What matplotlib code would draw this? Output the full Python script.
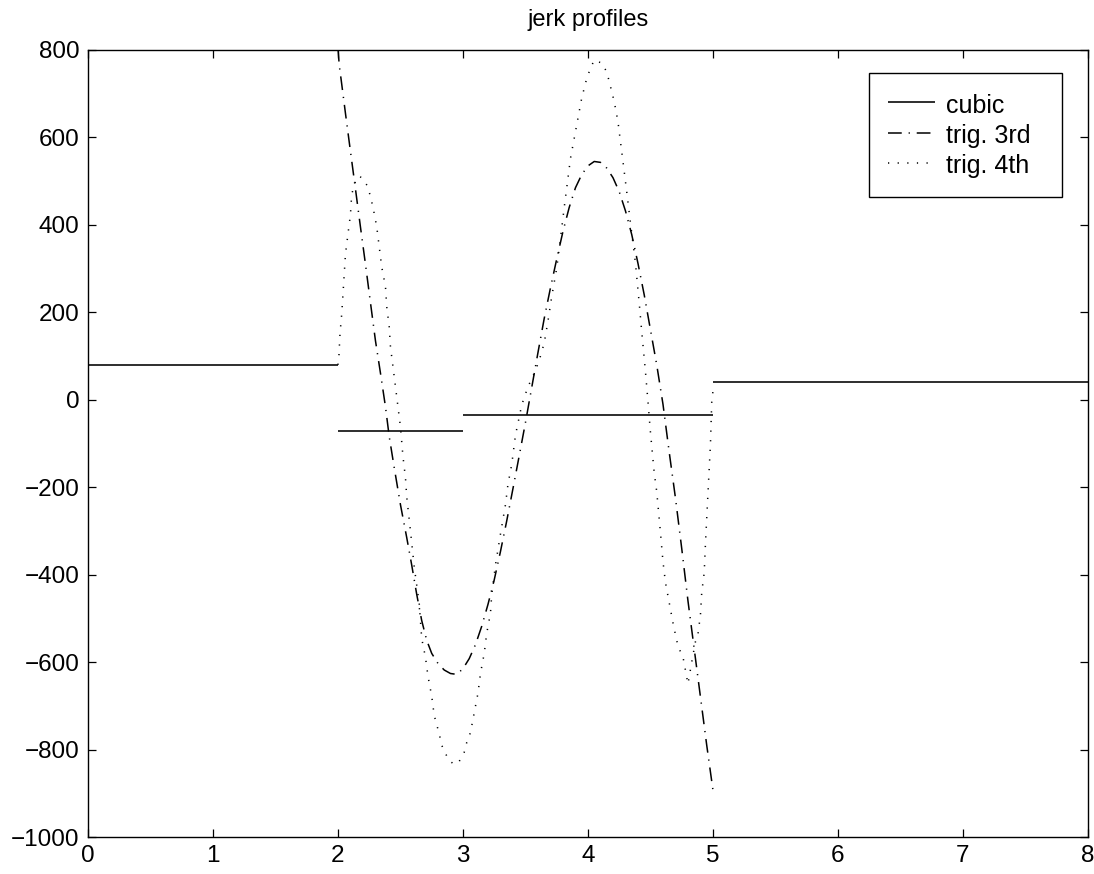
import numpy as np
import matplotlib
matplotlib.use("Agg")
import matplotlib.pyplot as plt

plt.rcParams['font.family'] = ['Liberation Sans', 'DejaVu Sans']

# piecewise-constant jerk of the cubic profile
cubic_breaks = [0, 2, 3, 5, 8]
cubic_jerk = [80, -71, -34, 41]

# trigonometric 3rd-order profile
trig3_t = [2.00, 2.01, 2.03, 2.06, 2.10, 2.14, 2.18, 2.22, 2.26, 2.30,
           2.34, 2.38, 2.41, 2.45, 2.50, 2.55, 2.59, 2.63, 2.67, 2.71, 2.75,
           2.80, 2.85, 2.90, 2.95, 3.00, 3.05, 3.10, 3.15, 3.20, 3.25, 3.30,
           3.35, 3.40, 3.45, 3.50, 3.55, 3.60, 3.65, 3.70, 3.75, 3.80, 3.85,
           3.90, 3.95, 4.00, 4.05, 4.10, 4.15, 4.20, 4.25, 4.30, 4.35, 4.40,
           4.45, 4.50, 4.55, 4.60, 4.65, 4.70, 4.75, 4.80, 4.85, 4.90, 4.95,
           5.00]
trig3_jerk = [805, 766, 722, 655, 568, 482, 395, 310, 222, 135,
              61, -16, -84, -155, -240, -315, -378, -445, -505, -550, -580,
              -603, -618, -626, -628, -615, -592, -560, -518, -468, -412, -347,
              -277, -203, -128, -52, 28, 108, 186, 256, 322, 385, 440,
              485, 515, 535, 545, 543, 530, 508, 476, 432, 378, 312,
              240, 160, 80, -10, -120, -225, -340, -460, -570, -680, -790,
              -893]

# trigonometric 4th-order profile
trig4_t = [2.00, 2.008, 2.016, 2.03, 2.04, 2.05, 2.06, 2.08, 2.10, 2.11, 2.14,
           2.17, 2.20, 2.24, 2.26, 2.28, 2.31, 2.33, 2.35, 2.38, 2.39, 2.41,
           2.42, 2.44, 2.46, 2.48, 2.50, 2.52, 2.54, 2.55, 2.58, 2.61, 2.65,
           2.67, 2.70, 2.72, 2.75, 2.77, 2.79, 2.81, 2.83, 2.86, 2.89, 2.93,
           2.97, 3.01, 3.03, 3.06, 3.09, 3.12, 3.14, 3.17, 3.19, 3.22, 3.23,
           3.26, 3.30, 3.34, 3.36, 3.39, 3.42, 3.47, 3.52, 3.57, 3.61, 3.65,
           3.68, 3.71, 3.75, 3.78, 3.81, 3.84, 3.86, 3.89, 3.92, 3.95, 3.99,
           4.02, 4.05, 4.11, 4.15, 4.17, 4.19, 4.21, 4.24, 4.26, 4.28, 4.31,
           4.34, 4.36, 4.38, 4.41, 4.43, 4.46, 4.48, 4.50, 4.53, 4.55, 4.58,
           4.60, 4.62, 4.65, 4.68, 4.71, 4.73, 4.76, 4.80, 4.83, 4.86, 4.88,
           4.90, 4.91, 4.93, 4.94, 4.96, 4.98, 4.99, 5.00]
trig4_jerk = [80, 102, 150, 196, 241, 287, 333, 379, 424, 470, 500,
              512, 505, 487, 464, 441, 396, 350, 304, 259, 213, 167,
              121, 76, 30, -16, -62, -130, -178, -222, -300, -382, -466,
              -546, -589, -632, -678, -722, -743, -764, -790, -809, -825, -834,
              -827, -806, -784, -761, -716, -671, -626, -580, -534, -488, -446,
              -378, -307, -240, -193, -148, -81, -12, 30, 60, 90, 130,
              180, 236, 301, 369, 440, 507, 552, 598, 644, 690, 735,
              758, 777, 770, 750, 728, 705, 682, 636, 590, 545, 476,
              404, 358, 312, 221, 156, 64, -4, -75, -167, -210, -304,
              -370, -418, -464, -510, -551, -570, -588, -650, -600, -553, -536,
              -491, -441, -395, -328, -214, -100, -6, 20]

x_ticks = list(range(0, 9))
y_ticks = list(range(-1000, 801, 200))

fig = plt.figure(figsize=(10.94, 8.74), dpi=100)
ax = fig.add_axes([0.0804, 0.0423, 0.9141, 0.9005])

# cubic: separate horizontal segments, one legend entry
for i, v in enumerate(cubic_jerk):
    ax.plot([cubic_breaks[i], cubic_breaks[i + 1]], [v, v], color='black',
            lw=1.15, solid_capstyle='butt',
            label='cubic' if i == 0 else None)

ax.plot(trig3_t, trig3_jerk, color='black', lw=1.1,
        linestyle=(0, (9, 4.5, 0.8, 4.5)), label='trig. 3rd')
ax.plot(trig4_t, trig4_jerk, color='black', lw=1.1,
        linestyle=(0, (0.8, 5.5)), label='trig. 4th')

ax.set_xlim(0, 8)
ax.set_ylim(-1000, 800)
ax.set_xticks(x_ticks)
ax.set_yticks(y_ticks)
ax.tick_params(direction='in', length=6, width=0.9, labelsize=17.5,
               top=True, right=True, pad=6)
for s in ax.spines.values():
    s.set_linewidth(1.0)

ax.set_title('jerk profiles', fontsize=17, pad=17)

# legend box stretched to a fixed width, entries left-aligned inside it
leg = ax.legend(loc='upper left', bbox_to_anchor=(0.781, 0.8132, 0.193, 0.1576),
                mode='expand', fontsize=18, frameon=True, fancybox=False,
                edgecolor='black', framealpha=1, handlelength=1.9,
                handleheight=1.2, handletextpad=0.42, labelspacing=0.16,
                borderpad=0.75, borderaxespad=0.0)
leg.get_frame().set_linewidth(1.0)

fig.savefig('out.png', dpi=100)
